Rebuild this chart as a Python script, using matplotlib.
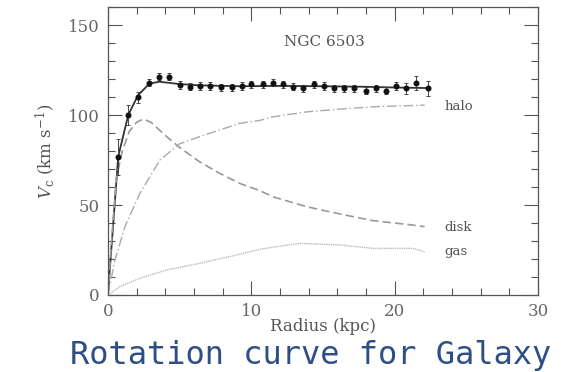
import numpy as np
import matplotlib
matplotlib.use("Agg")
from matplotlib import pyplot as plt
from matplotlib.ticker import MultipleLocator

# observed rotation curve of NGC 6503
r_obs = [0.72, 1.42, 2.12, 2.88, 3.58, 4.28, 5.02, 5.72, 6.42, 7.12, 7.86, 8.63, 9.33, 10.0,
         10.8, 11.5, 12.2, 12.9, 13.6, 14.4, 15.1, 15.8, 16.5, 17.2, 18.0, 18.7, 19.4, 20.1,
         20.8, 21.5, 22.3]
v_obs = [76.8, 100, 109.8, 117.9, 121.3, 121.3, 116.7, 115.7, 116.1, 116.1, 115.4, 115.4, 116.1, 117.0,
         117.0, 117.9, 117.0, 115.7, 114.8, 117.0, 116.1, 114.8, 114.8, 114.8, 113.5, 114.8, 113.5, 116.1,
         114.8, 117.9, 114.8]
v_err = [10, 5.5, 3, 2, 2, 2, 2, 2, 2, 2, 2, 2, 2, 2,
         2, 2, 2, 2, 2, 2, 2, 2, 2, 2, 2, 2, 2, 2,
         3, 4, 4]

# model fit (total)
r_tot = [0, 0.3, 0.72, 1.42, 2.1, 2.9, 3.6, 5.0, 6.4, 9.2, 12, 15, 18, 20, 22.3]
v_tot = [0, 32, 77, 100, 111, 117.5, 118.5, 117.2, 116.5, 116, 116.2, 116, 115.7, 115.3, 115]

# components
r_disk = [0, 0.3, 0.6, 1.0, 1.5, 2.0, 2.47, 3.0, 4.1, 5.0, 6.4, 7.8, 9.2, 10.6, 11.5, 13.9, 16.2, 18.5, 20.8, 22.1]
v_disk = [0, 35, 65, 80, 91, 96, 97.8, 96, 88, 82, 74, 67.6, 62, 58, 54.6, 49, 45, 41.3, 39.3, 38]

r_halo = [0, 0.49, 1.19, 2.23, 3.63, 5.0, 6.4, 9.2, 10.6, 11.5, 13.9, 16.2, 18.5, 22.1]
v_halo = [0, 19.4, 38, 56.5, 75, 84, 88, 95.4, 97, 99, 101.8, 103.3, 104.6, 105.5]

r_gas = [0, 0.84, 2.23, 4.1, 6.4, 8.7, 10.6, 11.5, 13.4, 16.2, 18.5, 21.3, 22.1]
v_gas = [0, 4.6, 9.3, 13.9, 17.6, 21.7, 25.4, 26.5, 28.7, 27.8, 25.9, 25.9, 24]

serif = "DejaVu Serif"
gray = "#555555"
plt.rcParams["mathtext.fontset"] = "dejavuserif"

fig = plt.figure(figsize=(5.65, 3.72), dpi=100)
ax = fig.add_axes([0.191, 0.207, 0.761, 0.774])

ax.plot(r_tot, v_tot, color="#333333", lw=1.3)
ax.plot(r_disk, v_disk, color="#999999", lw=1.2, dashes=(5, 2.5))
ax.plot(r_halo, v_halo, color="#aaaaaa", lw=1.0, dashes=(7, 2, 1, 2))
ax.plot(r_gas, v_gas, color="#bbbbbb", lw=1.0, linestyle=(0, (1, 0.6)))
ax.errorbar(r_obs, v_obs, yerr=v_err, fmt="o", color="#111111", ms=3.3,
            elinewidth=0.7, capsize=1.5, capthick=0.7, ecolor="#444444")

ax.set_xlim(0, 30)
ax.set_ylim(0, 160)
ax.xaxis.set_major_locator(MultipleLocator(10))
ax.xaxis.set_minor_locator(MultipleLocator(2))
ax.yaxis.set_major_locator(MultipleLocator(50))
ax.yaxis.set_minor_locator(MultipleLocator(10))
ax.tick_params(which="both", direction="in", top=True, right=True, colors=gray,
               labelcolor="#666666", width=0.8)
ax.tick_params(which="major", length=10, pad=6)
ax.tick_params(which="minor", length=5)
for lab in ax.get_xticklabels() + ax.get_yticklabels():
    lab.set_family(serif)
    lab.set_fontsize(12)
for s in ax.spines.values():
    s.set_color(gray)
    s.set_linewidth(0.9)

ax.set_xlabel("Radius (kpc)", family=serif, fontsize=12, color=gray, labelpad=-2)
ax.set_ylabel(r"$V_{\rm c}$ (km s$^{-1}$)", family=serif, fontsize=12, color=gray, labelpad=8)

ax.text(15.1, 140.5, "NGC 6503", family=serif, fontsize=11, color=gray, ha="center", va="center")
ax.text(23.5, 105, "halo", family=serif, fontsize=9.5, color=gray, va="center")
ax.text(23.5, 37.4, "disk", family=serif, fontsize=9.5, color=gray, va="center")
ax.text(23.5, 24, "gas", family=serif, fontsize=9.5, color=gray, va="center")

fig.text(0.549, 0.045, "Rotation curve for Galaxy", family="DejaVu Sans Mono",
         fontsize=23, color="#2d4f86", ha="center", va="center")

fig.savefig("out.png", dpi=100)
